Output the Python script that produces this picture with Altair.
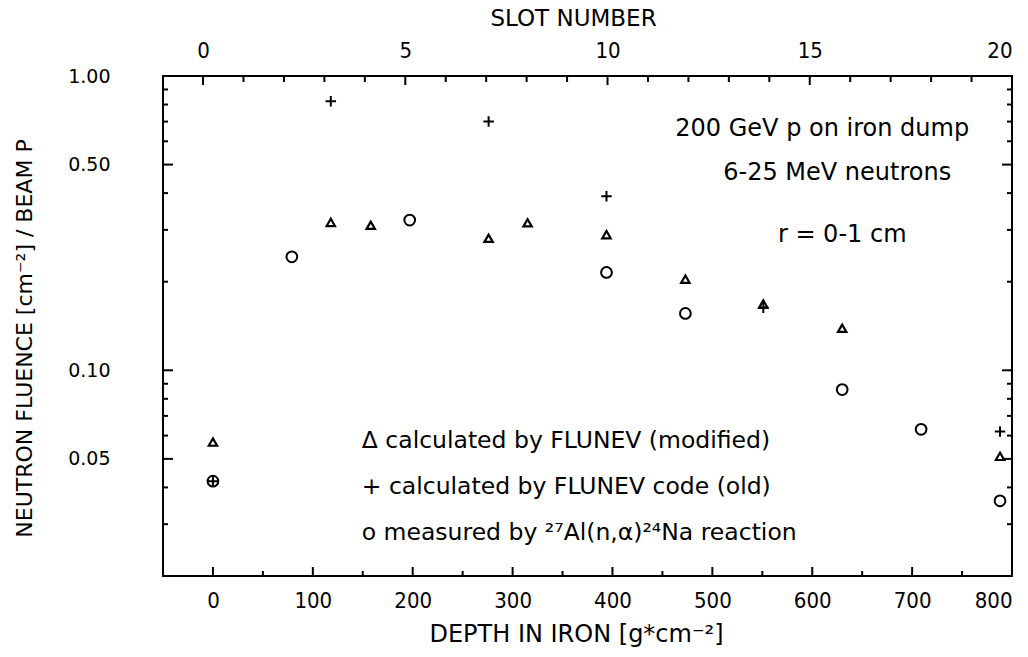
import altair as alt
import pandas as pd

# ---------------- data ----------------
tri_depth = [0, 118, 158, 276, 315, 394, 473, 551, 630, 788]
tri_flu = [0.057, 0.318, 0.311, 0.281, 0.317, 0.289, 0.204, 0.168, 0.139, 0.051]

plus_depth = [0, 118, 276, 394, 551, 788]
plus_flu = [0.042, 0.82, 0.70, 0.39, 0.163, 0.062]

circ_depth = [0, 79, 197, 394, 473, 630, 709, 788]
circ_flu = [0.042, 0.243, 0.324, 0.215, 0.156, 0.086, 0.063, 0.036]

depth_major = [0, 100, 200, 300, 400, 500, 600, 700, 800]
depth_minor = [50, 150, 250, 350, 450, 550, 650, 750]
flu_major = [0.05, 0.1, 0.5, 1.0]
flu_minor = [0.02, 0.03, 0.04, 0.06, 0.07, 0.08, 0.09, 0.2, 0.3, 0.4, 0.6, 0.7, 0.8, 0.9]
slot_major = [0, 5, 10, 15, 20]
slot_minor = [1, 2, 3, 4, 6, 7, 8, 9, 11, 12, 13, 14, 16, 17, 18, 19]

note_text = ["200 GeV p on iron dump", "6-25 MeV neutrons", "r = 0-1 cm"]
note_depth = [610, 625, 630]
note_flu = [0.661, 0.469, 0.289]

legend_text = ["\u0394 calculated by FLUNEV (modified)",
               "+ calculated by FLUNEV code (old)",
               "o measured by \u00b2\u2077Al(n,\u03b1)\u00b2\u2074Na reaction"]
legend_depth = [149, 149, 149]
legend_flu = [0.0575, 0.0402, 0.0279]

# ---------------- layout ----------------
W, H = 849, 500
XDOM = [-50, 800]
YDOM = [0.02, 1.0]
SDOM = [-0.99, 20]
TXT_FONT = "DejaVu Sans"
AX_FONT = "DejaVu Sans Condensed, Liberation Sans Narrow, DejaVu Sans"
TW = 2.0


def xs():
    return alt.Scale(domain=XDOM, nice=False, zero=False)


def ys():
    return alt.Scale(type="log", domain=YDOM, nice=False)


def ss():
    return alt.Scale(domain=SDOM, nice=False, zero=False)


def series(depth, flu, shape, size, sw):
    df = pd.DataFrame({"depth": depth, "fluence": flu})
    return alt.Chart(df).mark_point(
        shape=shape, size=size, filled=False, color="black", strokeWidth=sw, opacity=1
    ).encode(
        x=alt.X("depth:Q", scale=xs(), axis=None),
        y=alt.Y("fluence:Q", scale=ys(), axis=None),
    )


tri = series(tri_depth, tri_flu, "triangle-up", 70, 2.2)
plus = series(plus_depth, plus_flu, "M-1,0L1,0M0,-1L0,1", 110, 2.0)
circ = series(circ_depth, circ_flu, "circle", 115, 2.0)


# ---- inward tick marks (drawn from the tick-value lists through the scales) ----
def x_ticks(vals, field, scale, y0, y1):
    df = pd.DataFrame({field: vals})
    return alt.Chart(df).mark_rule(color="black", strokeWidth=TW).encode(
        x=alt.X(f"{field}:Q", scale=scale, axis=None),
        y=alt.value(y0), y2=alt.value(y1),
    )


def y_ticks(vals, x0, x1):
    df = pd.DataFrame({"fluence": vals})
    return alt.Chart(df).mark_rule(color="black", strokeWidth=TW).encode(
        y=alt.Y("fluence:Q", scale=ys(), axis=None),
        x=alt.value(x0), x2=alt.value(x1),
    )


tick_layers = [
    x_ticks(depth_major, "depth", xs(), H, H - 9),
    x_ticks(depth_minor, "depth", xs(), H, H - 5),
    x_ticks(slot_major, "slot", ss(), 0, 9),
    x_ticks(slot_minor, "slot", ss(), 0, 6),
    y_ticks(flu_major, 0, 10),
    y_ticks(flu_minor, 0, 5),
    y_ticks(flu_major, W, W - 10),
    y_ticks(flu_minor, W, W - 5),
]


# ---- axes for labels and titles only ----
def xaxis_layer(vals, field, scale, axis):
    df = pd.DataFrame({field: vals})
    return alt.Chart(df).mark_point(opacity=0).encode(
        x=alt.X(f"{field}:Q", scale=scale, axis=axis)
    )


def yaxis_layer(vals, axis):
    df = pd.DataFrame({"fluence": vals})
    return alt.Chart(df).mark_point(opacity=0).encode(
        y=alt.Y("fluence:Q", scale=ys(), axis=axis)
    )


bottom_axis = xaxis_layer(depth_major, "depth", xs(), alt.Axis(
    orient="bottom", values=depth_major, ticks=False, tickSize=0, domain=False, grid=False,
    labelPadding=14, labelFont=AX_FONT, labelFontSize=22,
    title="DEPTH IN IRON [g*cm\u207b\u00b2]", titleFont=TXT_FONT, titleFontSize=24,
    titleFontWeight="normal", titlePadding=11, titleX=413))
top_axis = xaxis_layer(slot_major, "slot", ss(), alt.Axis(
    orient="top", values=slot_major, ticks=False, tickSize=0, domain=False, grid=False,
    labelPadding=14, labelFont=AX_FONT, labelFontSize=22,
    title="SLOT NUMBER", titleFont=TXT_FONT, titleFontSize=23,
    titleFontWeight="normal", titlePadding=9, titleX=410))
left_axis = yaxis_layer(flu_major, alt.Axis(
    orient="left", values=flu_major, format=".2f", ticks=False, tickSize=0,
    domain=False, grid=False,
    labelPadding=53, labelFont=TXT_FONT, labelFontSize=19,
    title="NEUTRON FLUENCE [cm\u207b\u00b2] / BEAM P", titleFont=TXT_FONT, titleFontSize=22,
    titleFontWeight="normal", titlePadding=31, titleY=262))

notes_df = pd.DataFrame({"t": note_text, "depth": note_depth, "fluence": note_flu})
notes = alt.Chart(notes_df).mark_text(
    font=TXT_FONT, fontSize=24, color="black", align="center", baseline="middle"
).encode(
    x=alt.X("depth:Q", scale=xs(), axis=None),
    y=alt.Y("fluence:Q", scale=ys(), axis=None),
    text="t:N",
)

leg_df = pd.DataFrame({"t": legend_text, "depth": legend_depth, "fluence": legend_flu})
legend = alt.Chart(leg_df).mark_text(
    font=TXT_FONT, fontSize=23.5, color="black", align="left", baseline="middle"
).encode(
    x=alt.X("depth:Q", scale=xs(), axis=None),
    y=alt.Y("fluence:Q", scale=ys(), axis=None),
    text="t:N",
)

chart = alt.layer(
    bottom_axis, top_axis, left_axis, *tick_layers,
    tri, plus, circ, notes, legend,
).resolve_scale(
    x="independent", y="independent"
).resolve_axis(
    x="independent", y="independent"
).properties(
    width=W, height=H,
    autosize=alt.AutoSizeParams(type="none"),
    padding={"left": 163, "top": 76, "right": 16, "bottom": 81},
    background="white",
).configure_view(
    stroke="black", strokeWidth=2
).configure_axis(
    labelColor="black", titleColor="black"
)

chart.save("out.html", embed_options={"renderer": "svg", "actions": False})
